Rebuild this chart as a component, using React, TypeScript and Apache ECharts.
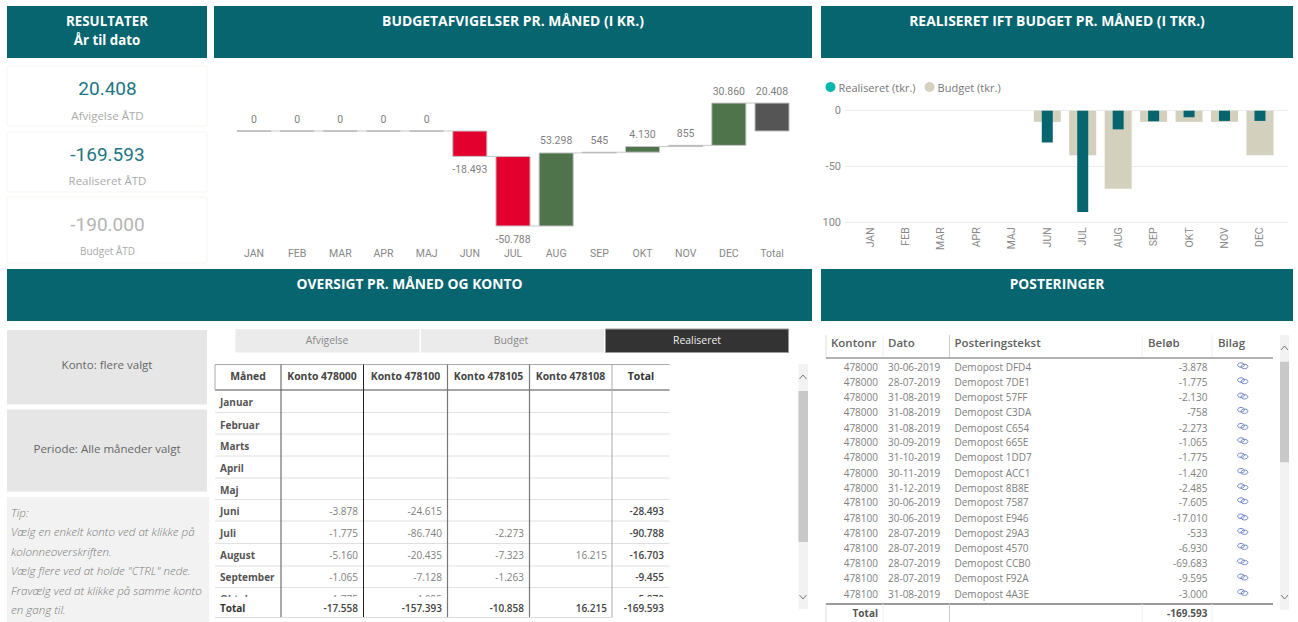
import React, { useEffect, useRef } from "react";
import * as echarts from "echarts";

// ---------- data ----------
const waterfallMonths = ["JAN", "FEB", "MAR", "APR", "MAJ", "JUN", "JUL", "AUG", "SEP", "OKT", "NOV", "DEC"];
const deviations = [0, 0, 0, 0, 0, -18493, -50788, 53298, 545, 4130, 855, 30860];
const deviationTotal = 20408;
const realised = [0, 0, 0, 0, 0, -28.493, -90.788, -16.703, -9.455, -5.87, -9.145, -9.14];
const budget = [0, 0, 0, 0, 0, -10, -40, -70, -10, -10, -10, -40];

const kpiValues = ["20.408", "-169.593", "-190.000"];
const kpiLabels = ["Afvigelse ÅTD", "Realiseret ÅTD", "Budget ÅTD"];
const headerTitles = ["Måned", "Konto 478000", "Konto 478100", "Konto 478105", "Konto 478108", "Total"];
const tableMonths = ["Januar", "Februar", "Marts", "April", "Maj", "Juni", "Juli", "August", "September", "Oktober"];
const konto478000 = [null, null, null, null, null, -3878, -1775, -5160, -1065, -1775];
const konto478100 = [null, null, null, null, null, -24615, -86740, -20435, -7128, -4095];
const konto478105 = [null, null, null, null, null, null, -2273, -7323, -1263, null];
const konto478108 = [null, null, null, null, null, null, null, 16215, null, null];
const kontoTotal = [null, null, null, null, null, -28493, -90788, -16703, -9455, -5870];
const tableTotals = [-17558, -157393, -10858, 16215, -169593];

const postAccounts = ["478000", "478000", "478000", "478000", "478000", "478000", "478000", "478000", "478000", "478100", "478100", "478100", "478100", "478100", "478100", "478100"];
const postDates = ["30-06-2019", "28-07-2019", "31-08-2019", "31-08-2019", "31-08-2019", "30-09-2019", "31-10-2019", "30-11-2019", "31-12-2019", "30-06-2019", "30-06-2019", "28-07-2019", "28-07-2019", "28-07-2019", "28-07-2019", "31-08-2019"];
const postTexts = ["DFD4", "7DE1", "57FF", "C3DA", "C654", "665E", "1DD7", "ACC1", "8B8E", "7587", "E946", "29A3", "4570", "CCB0", "F92A", "4A3E"];
const postAmounts = [-3878, -1775, -2130, -758, -2273, -1065, -1775, -1420, -2485, -7605, -17010, -533, -6930, -69683, -9595, -3000];
const tipLines = ["Tip:", "Vælg en enkelt konto ved at klikke på", "kolonneoverskriften.", "Vælg flere ved at holde \"CTRL\" nede.", "Fravælg ved at klikke på samme konto", "en gang til."];

// ---------- layout constants ----------
const TEAL = "#076570";
const SANS = "'Open Sans', sans-serif";
const DIN = "Roboto, sans-serif";
const fmt = (v: number) => (v < 0 ? "-" : "") + String(Math.abs(v)).replace(/\B(?=(\d{3})+$)/g, ".");

const rect = (x: number, y: number, w: number, h: number, fill: string, extra: any = {}, z = 0) => ({
  type: "rect", z, silent: true, shape: { x, y, width: w, height: h, r: extra.r || 0 },
  style: { fill, stroke: extra.stroke, lineWidth: extra.lineWidth || 0 },
});
const line = (x1: number, y1: number, x2: number, y2: number, stroke: string, lineWidth = 1, z = 1) => ({
  type: "line", z, silent: true, shape: { x1, y1, x2, y2 }, style: { stroke, lineWidth },
});
const text = (s: string, x: number, y: number, o: any = {}) => ({
  type: "text", z: o.z ?? 2, silent: true, x, y,
  style: {
    text: s, fill: o.fill || "#666", fontFamily: o.font || SANS, fontSize: o.size || 11,
    fontWeight: o.weight || "normal", fontStyle: o.style || "normal",
    align: o.align || "left", textAlign: o.align || "left",
    verticalAlign: "middle", textVerticalAlign: "middle",
  },
});
const chevron = (cx: number, cy: number, up: boolean) => ({
  type: "polyline", z: 2, silent: true,
  shape: { points: [[cx - 3.5, cy + (up ? 2 : -2)], [cx, cy + (up ? -2 : 2)], [cx + 3.5, cy + (up ? 2 : -2)]] },
  style: { stroke: "#777", lineWidth: 1, fill: "none" },
});

function buildGraphics() {
  const g: any[] = [];
  // headers
  const headers: [number, number, number, number, string[], number][] = [
    [7, 6, 200, 52, ["RESULTATER", "År til dato"], 13.3],
    [214, 6, 598, 52, ["BUDGETAFVIGELSER PR. MÅNED (I KR.)"], 13.9],
    [821, 6, 472, 52, ["REALISERET IFT BUDGET PR. MÅNED (I TKR.)"], 13.9],
    [7, 269, 805, 52, ["OVERSIGT PR. MÅNED OG KONTO"], 13.8],
    [821, 269, 472, 52, ["POSTERINGER"], 13.8],
  ];
  headers.forEach(([x, y, w, h, lines, size]) => {
    g.push(rect(x, y, w, h, TEAL));
    lines.forEach((l, i) => g.push(text(l, x + w / 2, y + 14.7 + i * 19, { fill: "#fff", weight: "bold", size, align: "center" })));
  });

  // KPI cards
  const cardY: [number, number][] = [[66, 60], [132, 60], [197, 66]];
  const valY = [88.5, 154.5, 224.5];
  const labY = [115.3, 180.3, 250.5];
  const valColor = ["#227683", "#227683", "#b4b4b4"];
  kpiValues.forEach((v, i) => {
    g.push(rect(7, cardY[i][0], 200, cardY[i][1], "#fff", { stroke: "#f5f5f0", lineWidth: 1, r: 2 }));
    g.push(text(v, 107.5, valY[i], { font: DIN, size: 19, fill: valColor[i], align: "center" }));
    g.push(text(kpiLabels[i], 107.5, labY[i], { size: i === 2 ? 10 : 11.5, fill: "#aaa", align: "center" }));
  });

  // slicers + tip
  g.push(rect(7, 330, 200, 74.5, "#e6e6e6"));
  g.push(rect(7, 409.5, 200, 82, "#e6e6e6"));
  g.push(text("Konto: flere valgt", 107, 364, { size: 11.5, fill: "#666", align: "center" }));
  g.push(text("Periode: Alle måneder valgt", 107, 448, { size: 11.5, fill: "#666", align: "center" }));
  g.push(rect(7, 497, 202, 125, "#f2f2f2"));
  const tipY = [512.5, 531, 551, 570, 590, 609];
  tipLines.forEach((l, i) => g.push(text(l, 11, tipY[i], { size: 11.6, style: "italic", weight: 300, fill: "#7a7a7a" })));

  // tabs
  g.push(rect(235.5, 329, 184, 23.5, "#ebebeb"));
  g.push(rect(421, 329, 183, 23.5, "#ebebeb"));
  g.push(rect(605.5, 329, 183, 23.5, "#333333", { stroke: "#999", lineWidth: 1 }));
  g.push(text("Afvigelse", 327, 340, { size: 10.4, fill: "#888", align: "center" }));
  g.push(text("Budget", 511, 340, { size: 10.4, fill: "#888", align: "center" }));
  g.push(text("Realiseret", 697, 340, { size: 10.4, fill: "#eee", align: "center" }));

  // matrix table
  const colX = [215, 281, 363.5, 447.5, 529.5, 612, 669.5];
  const headerC = [248, 322, 405.5, 488.5, 570.5, 641];
  const rowLines = [412.5, 434, 456, 478, 499.5, 521, 543.5, 566, 587.5];
  const rowY = [402, 424.5, 445.5, 467.5, 489.5, 510.5, 532.5, 555, 576.5, 599];
  const valRight = [358, 442, 524, 607, 664];
  g.push(line(215, 364.5, 669.5, 364.5, "#aaa", 1));
  g.push(line(215, 390, 669.5, 390, "#888", 1.5));
  rowLines.forEach((y) => g.push(line(215, y, 669.5, y, "#e0e0e0", 1)));
  g.push(line(215, 364.5, 215, 390, "#aaa", 1));
  headerTitles.forEach((t, i) => g.push(text(t, headerC[i], 375.5, { size: 10.4, weight: "bold", fill: i === 5 ? "#333" : "#444", align: "center" })));
  tableMonths.forEach((m, i) => g.push(text(m, 220, rowY[i], { size: 10, weight: "bold", fill: "#555" })));
  [konto478000, konto478100, konto478105, konto478108, kontoTotal].forEach((col, c) =>
    col.forEach((v, r) => {
      if (v !== null) g.push(text(fmt(v), valRight[c], rowY[r], { size: 10, fill: c === 4 ? "#444" : "#808080", weight: c === 4 ? 600 : "normal", align: "right" }));
    })
  );
  g.push(rect(212, 596.7, 460, 25, "#fff", {}, 3));
  g.push(text("Total", 220, 607.5, { size: 10, weight: "bold", fill: "#333", z: 4 }));
  tableTotals.forEach((v, c) => g.push(text(fmt(v), valRight[c], 607.5, { size: 10, weight: 600, fill: "#444", align: "right", z: 4 })));
  const colStroke = ["", "#555", "#222", "#777", "#777", "#aaa"];
  for (let i = 1; i < 6; i++) g.push(line(colX[i], 364.5, colX[i], 617.5, colStroke[i], i === 3 || i === 4 ? 1.2 : 1, 4));
  g.push(line(215, 617.5, 612, 617.5, "#ddd", 1, 4));

  // matrix scrollbar
  g.push(rect(798.5, 364, 9.5, 245, "#f2f2f2"));
  g.push(rect(798.5, 391, 9.5, 151, "#c8c8c8", {}, 1));
  g.push(chevron(803, 377, true));
  g.push(chevron(803, 597, false));

  // postings table
  const heads: [string, number][] = [["Kontonr", 831], ["Dato", 888], ["Posteringstekst", 954.5], ["Beløb", 1148], ["Bilag", 1218]];
  heads.forEach(([t, x]) => g.push(text(t, x, 342.5, { size: 11.5, weight: 600, fill: "#606060" })));
  [[826, "#ddd"], [883, "#eee"], [949.5, "#ccc"], [1142, "#eee"], [1212, "#eee"]].forEach(([x, c]) =>
    g.push(line(x as number, 335, x as number, 358, c as string, 1))
  );
  g.push(line(826, 358, 1273, 358, "#999", 1.5));
  const pY = [367, 382, 397.3, 411.7, 427.7, 442, 457.3, 472.7, 488, 502, 518.3, 532.7, 547.7, 563, 578.3, 593.7];
  postAccounts.forEach((a, i) => {
    const y = pY[i];
    g.push(text(a, 878, y, { size: 10, fill: "#808080", align: "right" }));
    g.push(text(postDates[i], 888, y, { size: 10, fill: "#808080" }));
    g.push(text("Demopost " + postTexts[i], 954.5, y, { size: 10, fill: "#808080" }));
    g.push(text(fmt(postAmounts[i]), 1207.5, y, { size: 10, fill: "#808080", align: "right" }));
    g.push({ type: "ellipse", z: 2, silent: true, shape: { cx: 1241, cy: y - 2, rx: 3.4, ry: 2.2 }, style: { fill: "none", stroke: "#6f85c8", lineWidth: 1 } });
    g.push({ type: "ellipse", z: 2, silent: true, shape: { cx: 1244.5, cy: y - 0.5, rx: 3.4, ry: 2.2 }, style: { fill: "none", stroke: "#6f85c8", lineWidth: 1 } });
  });
  g.push(line(826, 604, 1273, 604, "#777", 1.5));
  g.push(text("Total", 878, 612.5, { size: 10, weight: "bold", fill: "#555", align: "right" }));
  g.push(text(fmt(-169593), 1207.5, 612.5, { size: 10, weight: "bold", fill: "#555", align: "right" }));
  [[826, "#ddd"], [883, "#eee"], [949.5, "#ccc"], [1142, "#eee"], [1212, "#eee"]].forEach(([x, c]) =>
    g.push(line(x as number, 604, x as number, 622, c as string, 1))
  );
  g.push(rect(1280, 335, 9, 275, "#f2f2f2"));
  g.push(rect(1280, 361.7, 9, 100.6, "#c8c8c8", {}, 1));
  g.push(chevron(1284.5, 348, true));
  g.push(chevron(1284.5, 597, false));
  return g;
}

function buildWaterfall() {
  const rows: number[][] = [];
  let run = 0;
  deviations.forEach((d, i) => {
    rows.push([i, run, run + d, d]);
    run += d;
  });
  rows.push([deviations.length, 0, deviationTotal, deviationTotal]);
  return rows;
}

const renderWaterfall = (params: any, api: any) => {
  const i = api.value(0);
  const start = api.value(1);
  const end = api.value(2);
  const val = api.value(3);
  const isTotal = i === deviations.length;
  const band = api.size([1, 0])[0];
  const w = band * 0.79;
  const a = api.coord([i, start]);
  const b = api.coord([i, end]);
  const top = Math.min(a[1], b[1]);
  const bot = Math.max(a[1], b[1]);
  const fill = isTotal ? "#555555" : val < 0 ? "#E3002E" : val > 0 ? "#4F734A" : "#999999";
  const children: any[] = [
    {
      type: "rect",
      shape: { x: a[0] - w / 2, y: top, width: w, height: bot - top },
      style: { fill, stroke: val === 0 ? "#b0b0b0" : "#c4c4c4", lineWidth: 1 },
    },
  ];
  if (!isTotal) {
    children.push({
      type: "line",
      shape: { x1: a[0] + w / 2, y1: b[1], x2: a[0] + band - w / 2, y2: b[1] },
      style: { stroke: "#c8c8c8", lineWidth: 1 },
    });
  }
  children.push({
    type: "text",
    x: a[0],
    y: val < 0 ? bot + 13.5 : top - 12,
    style: {
      text: fmt(val), fill: "#808080", fontFamily: DIN, fontSize: 10.5,
      align: "center", textAlign: "center", verticalAlign: "middle", textVerticalAlign: "middle",
    },
  });
  return { type: "group", children };
};

const option: any = {
  animation: false,
  backgroundColor: "#fff",
  graphic: { elements: buildGraphics() },
  legend: {
    left: 825.5,
    top: 81.5,
    padding: 0,
    itemWidth: 10,
    itemHeight: 10,
    itemGap: 9,
    selectedMode: false,
    textStyle: { color: "#777", fontFamily: SANS, fontSize: 11, padding: [0, 0, 0, -2] },
    data: [
      { name: "Realiseret (tkr.)", icon: "circle", itemStyle: { color: "#01B8AA" } },
      { name: "Budget (tkr.)", icon: "circle", itemStyle: { color: "#D3D0BE" } },
    ],
  },
  grid: [
    { left: 232.4, top: 76.2, width: 561.2, height: 164.5 },
    { left: 852.3, top: 110.7, width: 425.4, height: 111.6 },
    { left: 845, top: 110.7, width: 443, height: 111.6 },
  ],
  xAxis: [
    {
      gridIndex: 0, type: "category", data: [...waterfallMonths, "Total"],
      axisLine: { show: false }, axisTick: { show: false },
      axisLabel: { color: "#888", fontFamily: DIN, fontSize: 10.5, margin: 7, interval: 0 },
    },
    {
      gridIndex: 1, type: "category", data: waterfallMonths,
      axisLine: { show: false }, axisTick: { show: false },
      axisLabel: { color: "#888", fontFamily: DIN, fontSize: 10.5, margin: 5, rotate: 90, interval: 0 },
    },
    { gridIndex: 1, type: "category", data: waterfallMonths, show: false },
    { gridIndex: 2, type: "value", min: 0, max: 1, show: false },
  ],
  yAxis: [
    { gridIndex: 0, type: "value", min: -80000, max: 40000, show: false },
    { gridIndex: 1, type: "value", min: -100, max: 0, show: false },
    {
      gridIndex: 2, type: "value", min: -100, max: 0, interval: 50,
      axisLine: { show: false }, axisTick: { show: false },
      splitLine: { lineStyle: { color: "#ececec", width: 1 } },
      axisLabel: {
        color: "#888", fontFamily: DIN, fontSize: 11, margin: 4,
        formatter: (v: number) => (v === -100 ? "100" : String(v)),
      },
    },
  ],
  series: [
    {
      type: "custom", xAxisIndex: 0, yAxisIndex: 0, data: buildWaterfall(),
      encode: { x: 0, y: [1, 2] }, renderItem: renderWaterfall, clip: false, silent: true,
    },
    {
      name: "Budget (tkr.)", type: "bar", xAxisIndex: 1, yAxisIndex: 1, data: budget, barWidth: 27,
      itemStyle: { color: "#D3D0BE" }, silent: true, z: 2,
    },
    {
      name: "Realiseret (tkr.)", type: "bar", xAxisIndex: 2, yAxisIndex: 1, data: realised, barWidth: 11,
      itemStyle: { color: TEAL }, silent: true, z: 3,
    },
  ],
};

export default function App() {
  const ref = useRef<HTMLDivElement>(null);
  useEffect(() => {
    const chart = echarts.init(ref.current!, null, { renderer: "svg" });
    chart.setOption(option);
    return () => chart.dispose();
  }, []);
  return <div ref={ref} style={{ position: "absolute", left: 0, top: 0, width: 1298, height: 622 }} />;
}
